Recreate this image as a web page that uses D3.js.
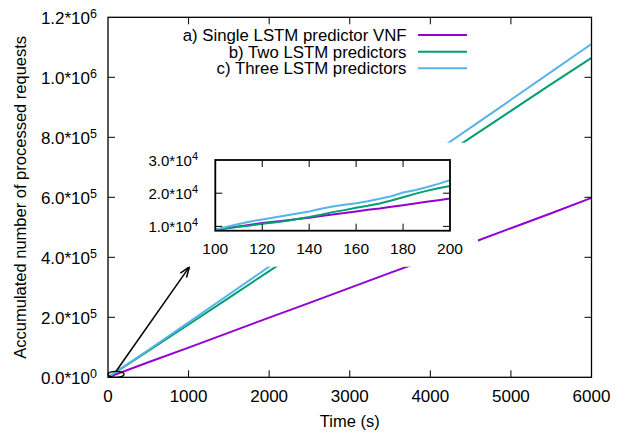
<!DOCTYPE html>
<html>
<head>
<meta charset="utf-8">
<script src="https://cdn.jsdelivr.net/npm/d3@7"></script>
<style>
  body { margin: 0; background: #fff; }
  text { font-family: "Liberation Sans", Arial, Helvetica, sans-serif; fill: #000; }
</style>
</head>
<body>
<svg width="621" height="432"></svg>
<script>
// Series names and colours
const seriesNames = ["a) Single LSTM predictor VNF", "b) Two LSTM predictors", "c) Three LSTM predictors"];
const seriesColors = ["#9400d3", "#009e73", "#56b4e9"];

// Main chart: time (s) and accumulated requests
const mainTime = [0, 500, 1000, 1500, 2000, 2500, 3000, 3500, 4000, 4500, 5000, 5500, 6000];
const singleMain = [0, 50e3, 99e3, 149e3, 199e3, 248e3, 298e3, 348e3, 397e3, 447e3, 497e3, 547e3, 598e3];
const twoMain = [0, 88e3, 176e3, 265e3, 354e3, 443e3, 532e3, 621e3, 710e3, 799e3, 888e3, 977e3, 1065e3];
const threeMain = [0, 91e3, 183e3, 276e3, 369e3, 461e3, 555e3, 647e3, 740e3, 832e3, 925e3, 1018e3, 1111e3];

// Inset: zoom on 100..200 s
const insetTime = [100, 105, 110, 115, 120, 125, 130, 135, 140, 145, 150, 155, 160, 165, 170, 175, 180, 185, 190, 195, 200];
const singleInset = [9000, 9500, 10000, 10500, 11000, 11400, 11800, 12200, 12600, 13100, 13600, 14000, 14500, 15000, 15400, 15900, 16400, 16900, 17400, 17900, 18400];
const twoInset = [9000, 9400, 9900, 10300, 10800, 11200, 11600, 12200, 12800, 13500, 14300, 14900, 15600, 16200, 16900, 17800, 18800, 19800, 20700, 21500, 22200];
const threeInset = [9000, 9900, 10700, 11500, 12100, 12700, 13300, 13900, 14500, 15300, 16000, 16500, 17000, 17600, 18300, 19100, 20200, 20900, 21800, 22800, 23900];

// Tick values and labels (mantissa, exponent)
const mainXTicks = [0, 1000, 2000, 3000, 4000, 5000, 6000];
const mainYTicks = [0, 2e5, 4e5, 6e5, 8e5, 1e6, 1.2e6];
const mainYLabels = [["0.0*10", "0"], ["2.0*10", "5"], ["4.0*10", "5"], ["6.0*10", "5"], ["8.0*10", "5"], ["1.0*10", "6"], ["1.2*10", "6"]];
const insetXTicks = [100, 120, 140, 160, 180, 200];
const insetYTicks = [1e4, 2e4, 3e4];
const insetYLabels = [["1.0*10", "4"], ["2.0*10", "4"], ["3.0*10", "4"]];

// Zoom marker: ellipse centre/size and arrow end, in data units
const markCenter = [100, 10000], markSize = [200, 20000];
const arrowFrom = [100, 20000], arrowTo = [1010, 368000];

const svg = d3.select("svg");

const x = d3.scaleLinear().domain([0, 6000]).range([108, 591.5]);
const y = d3.scaleLinear().domain([0, 1.2e6]).range([377.3, 17.3]);

svg.append("clipPath").attr("id", "clipMain")
  .append("rect")
  .attr("x", x(0)).attr("y", y(1.2e6))
  .attr("width", x(6000) - x(0)).attr("height", y(0) - y(1.2e6));

// Main lines
const mainSeries = [singleMain, twoMain, threeMain];
const lineMain = d3.line().x((d, i) => x(mainTime[i])).y(d => y(d));
svg.append("g").attr("clip-path", "url(#clipMain)")
  .selectAll("path").data(mainSeries).join("path")
  .attr("fill", "none")
  .attr("stroke", (d, i) => seriesColors[i])
  .attr("stroke-width", 2)
  .attr("d", lineMain);

// Ticks (inward, mirrored)
const tl = 7;
const gt = svg.append("g").attr("stroke", "#000").attr("stroke-width", 1);
mainXTicks.slice(1, -1).forEach(v => {
  gt.append("line").attr("x1", x(v)).attr("x2", x(v)).attr("y1", y(0)).attr("y2", y(0) - tl);
  gt.append("line").attr("x1", x(v)).attr("x2", x(v)).attr("y1", y(1.2e6)).attr("y2", y(1.2e6) + tl);
});
mainYTicks.slice(1, -1).forEach(v => {
  gt.append("line").attr("x1", x(0)).attr("x2", x(0) + tl).attr("y1", y(v)).attr("y2", y(v));
  gt.append("line").attr("x1", x(6000)).attr("x2", x(6000) - tl).attr("y1", y(v)).attr("y2", y(v));
});

// Border
svg.append("rect")
  .attr("x", x(0)).attr("y", y(1.2e6))
  .attr("width", x(6000) - x(0)).attr("height", y(0) - y(1.2e6))
  .attr("fill", "none").attr("stroke", "#000").attr("stroke-width", 1.3);

// Tick labels
svg.append("g").selectAll("text").data(mainXTicks).join("text")
  .attr("x", d => x(d)).attr("y", 402)
  .attr("text-anchor", "middle").attr("font-size", 17)
  .text(d => d);

function supLabel(g, px, py, lab, fs, sfs) {
  const t = g.append("text").attr("x", px).attr("y", py)
    .attr("text-anchor", "end").attr("font-size", fs);
  t.append("tspan").text(lab[0]);
  t.append("tspan").attr("font-size", sfs).attr("dy", -fs * 0.4).text(lab[1]);
}
const gy = svg.append("g");
mainYTicks.forEach((v, i) => supLabel(gy, 97, y(v) + 7, mainYLabels[i], 17, 12.5));

// Axis titles
svg.append("text")
  .attr("x", (x(0) + x(6000)) / 2).attr("y", 427)
  .attr("text-anchor", "middle").attr("font-size", 16.5)
  .text("Time (s)");
svg.append("text")
  .attr("transform", `translate(26,${(y(0) + y(1.2e6)) / 2}) rotate(-90)`)
  .attr("text-anchor", "middle").attr("font-size", 16.5)
  .text("Accumulated number of processed requests");

// Legend
const legY = [35, 51.7, 68.3];
const lg = svg.append("g");
seriesNames.forEach((n, i) => {
  lg.append("text").attr("x", 406.5).attr("y", legY[i] + 6)
    .attr("text-anchor", "end").attr("font-size", 16.8).text(n);
  lg.append("line").attr("x1", 418).attr("x2", 467)
    .attr("y1", legY[i]).attr("y2", legY[i])
    .attr("stroke", seriesColors[i]).attr("stroke-width", 2);
});

// Zoom marker ellipse and arrow
svg.append("ellipse")
  .attr("cx", x(markCenter[0])).attr("cy", y(markCenter[1]))
  .attr("rx", (x(markSize[0]) - x(0)) / 2).attr("ry", (y(0) - y(markSize[1])) / 2)
  .attr("fill", "none").attr("stroke", "#000").attr("stroke-width", 1.3);

const ax1 = x(arrowFrom[0]), ay1 = y(arrowFrom[1]), ax2 = x(arrowTo[0]), ay2 = y(arrowTo[1]);
const ang = Math.atan2(ay2 - ay1, ax2 - ax1), hl = 11, ha = Math.PI / 9;
const ag = svg.append("g").attr("stroke", "#000").attr("stroke-width", 1.5).attr("fill", "none");
ag.append("line").attr("x1", ax1).attr("y1", ay1).attr("x2", ax2).attr("y2", ay2);
ag.append("path").attr("d",
  `M${ax2 - hl * Math.cos(ang - ha)},${ay2 - hl * Math.sin(ang - ha)}L${ax2},${ay2}L${ax2 - hl * Math.cos(ang + ha)},${ay2 - hl * Math.sin(ang + ha)}`);

// Inset background (clears main lines behind it)
svg.append("rect").attr("x", 130).attr("y", 142.7).attr("width", 348).attr("height", 124)
  .attr("fill", "#fff");

// Inset
const xi = d3.scaleLinear().domain([100, 200]).range([215.3, 450]);
const yi = d3.scaleLinear().domain([8700, 30000]).range([230.7, 160]);
const insetSeries = [singleInset, twoInset, threeInset];
const lineInset = d3.line().x((d, i) => xi(insetTime[i])).y(d => yi(d));

svg.append("clipPath").attr("id", "clipInset")
  .append("rect").attr("x", xi(100)).attr("y", yi(30000))
  .attr("width", xi(200) - xi(100)).attr("height", yi(8700) - yi(30000));

svg.append("g").attr("clip-path", "url(#clipInset)")
  .selectAll("path").data(insetSeries).join("path")
  .attr("fill", "none")
  .attr("stroke", (d, i) => seriesColors[i])
  .attr("stroke-width", 2)
  .attr("d", lineInset);

const gi = svg.append("g").attr("stroke", "#000").attr("stroke-width", 1);
insetXTicks.slice(1, -1).forEach(v => {
  gi.append("line").attr("x1", xi(v)).attr("x2", xi(v)).attr("y1", yi(8700)).attr("y2", yi(8700) - tl);
  gi.append("line").attr("x1", xi(v)).attr("x2", xi(v)).attr("y1", yi(30000)).attr("y2", yi(30000) + tl);
});
insetYTicks.slice(0, -1).forEach(v => {
  gi.append("line").attr("x1", xi(100)).attr("x2", xi(100) + tl).attr("y1", yi(v)).attr("y2", yi(v));
  gi.append("line").attr("x1", xi(200)).attr("x2", xi(200) - tl).attr("y1", yi(v)).attr("y2", yi(v));
});
svg.append("rect")
  .attr("x", xi(100)).attr("y", yi(30000))
  .attr("width", xi(200) - xi(100)).attr("height", yi(8700) - yi(30000))
  .attr("fill", "none").attr("stroke", "#000").attr("stroke-width", 1.8);

svg.append("g").selectAll("text").data(insetXTicks).join("text")
  .attr("x", d => xi(d)).attr("y", 254)
  .attr("text-anchor", "middle").attr("font-size", 15.5)
  .text(d => d);
const giy = svg.append("g");
insetYTicks.forEach((v, i) => supLabel(giy, 198, yi(v) + 6, insetYLabels[i], 15, 11));
</script>
</body>
</html>
